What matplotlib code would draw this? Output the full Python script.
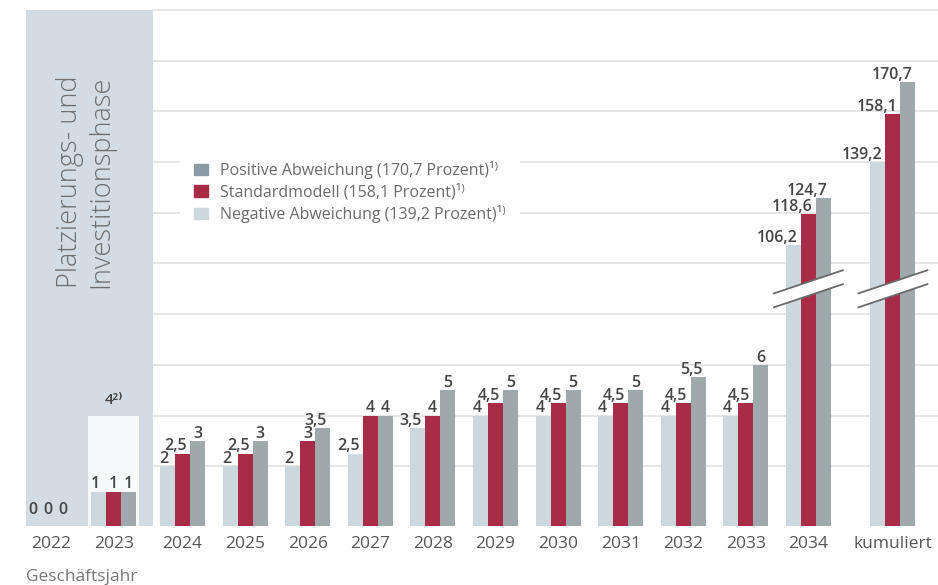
import numpy as np
import matplotlib
matplotlib.use('Agg')
import matplotlib.pyplot as plt
from matplotlib.patches import Rectangle, Polygon

plt.rcParams['font.family'] = ['Open Sans', 'DejaVu Sans']

# data
categories = ['2022', '2023', '2024', '2025', '2026', '2027', '2028', '2029',
              '2030', '2031', '2032', '2033', '2034', 'kumuliert']
negative = [0, 1, 2, 2, 2, 2.5, 3.5, 4, 4, 4, 4, 4, 106.2, 139.2]
standard = [0, 1, 2.5, 2.5, 3, 4, 4, 4.5, 4.5, 4.5, 4.5, 4.5, 118.6, 158.1]
positive = [0, 1, 3, 3, 3.5, 4, 5, 5, 5, 5, 5.5, 6, 124.7, 170.7]
legend_labels = ['Positive Abweichung (170,7 Prozent)\u00b9\u207e',
                 'Standardmodell (158,1 Prozent)\u00b9\u207e',
                 'Negative Abweichung (139,2 Prozent)\u00b9\u207e']
note_2023 = '4\u00b2\u207e'

# colours
c_neg = '#cdd7de'
c_std = '#a82c48'
c_pos = '#9fa9ac'
c_pos_leg = '#8b9ba5'
c_band = '#d3dce3'
c_grid = '#e4e4e4'
c_text = '#454545'

FLOOR = -0.36
BREAK_LIMIT = 50


def display_height(v):
    # values above the break are drawn compressed
    return v / 10 + 0.1 if v > BREAK_LIMIT else v


def fmt(v):
    return ('%g' % v).replace('.', ',')


fig = plt.figure(figsize=(9.38, 5.85), dpi=100)
ax = fig.add_axes([26 / 938, 1 - 526 / 585, 912 / 938, 516 / 585])
ax.set_xlim(-0.4, 14.17)
ax.set_ylim(FLOOR, 20)
for s in ax.spines.values():
    s.set_visible(False)
ax.set_yticks([])

pos = np.arange(len(categories), dtype=float)
pos[2:] += 0.1
pos[-1] += 0.35
w = 0.24

# grid + phase band
ax.hlines(np.arange(2, 21, 2), 1.63, 14.17, color=c_grid, lw=1.3, zorder=0, clip_on=False)
ax.axvspan(-0.4, 1.63, color=c_band, zorder=1, lw=0)
ax.add_patch(Rectangle((pos[1] - 0.41, FLOOR), 0.82, 4 - FLOOR, color='#f6f8fa', zorder=1.5, lw=0))
ax.text(pos[1], 4.45, note_2023, ha='center', va='baseline', fontsize=11,
        color=c_text, weight='semibold', zorder=4)

series = [(negative, c_neg, -w), (standard, c_std, 0), (positive, c_pos, w)]
for k, (vals, col, off) in enumerate(series):
    for x, v in zip(pos + off, vals):
        d = display_height(v)
        if v > 0:
            ax.bar(x, d - FLOOR, bottom=FLOOR, width=w, color=col, lw=0, zorder=2)
        y = d + 0.12 if v > 0 else 0.1
        txt = fmt(v)
        shift = 0.1 if (k == 0 and len(txt) == 1) else 0.05
        lx = x + w / 2 - shift if v > 0 else x + w / 2 - 0.1
        ax.text(lx, y, txt, ha='right', va='baseline', fontsize=11.5,
                color=c_text, weight='semibold', zorder=4)

# axis break marks
s_br, gap, yc = 0.83, 0.55, 9.0
for i, v in enumerate(positive):
    if v > BREAK_LIMIT:
        cx = pos[i]
        xl, xr = cx - 0.55, cx + 0.55
        up = lambda x: yc + gap / 2 + s_br * (x - cx)
        lo = lambda x: yc - gap / 2 + s_br * (x - cx)
        ax.add_patch(Polygon([(xl, lo(xl)), (xr, lo(xr)), (xr, up(xr)), (xl, up(xl))],
                             closed=True, color='white', lw=0, zorder=3))
        ax.plot([xl, xr], [up(xl), up(xr)], color='#6a6a6a', lw=1.3, zorder=3.5)
        ax.plot([xl, xr], [lo(xl), lo(xr)], color='#6a6a6a', lw=1.3, zorder=3.5)

ax.set_xticks(pos, categories)
ax.tick_params(axis='x', length=0, pad=7, labelsize=12.5, labelcolor='#555555')

# legend
leg_handles = [Rectangle((0, 0), 1, 1, color=c_pos_leg),
               Rectangle((0, 0), 1, 1, color=c_std),
               Rectangle((0, 0), 1, 1, color=c_neg)]
leg = ax.legend(leg_handles, legend_labels, loc='center left',
                bbox_to_anchor=(180 / 938, 1 - 192 / 585), bbox_transform=fig.transFigure,
                frameon=True, facecolor='white', edgecolor='none', framealpha=1,
                fontsize=11.5, handlelength=0.85, handleheight=0.75, handletextpad=0.75,
                labelspacing=0.3, borderpad=0.9, borderaxespad=0)
for t in leg.get_texts():
    t.set_color('#6a6a6a')
leg.set_zorder(5)

fig.text(86 / 938, 1 - 288 / 585, 'Platzierungs- und\nInvestitionsphase', rotation=90,
         ha='center', va='bottom', fontsize=19.5, color='#6e6e6e', linespacing=1.15,
         weight='light')
fig.text(26 / 938, 1 - 577 / 585, 'Geschäftsjahr', ha='left', va='center',
         fontsize=12.5, color='#777777')

fig.savefig('out.png', dpi=100, facecolor='white')
